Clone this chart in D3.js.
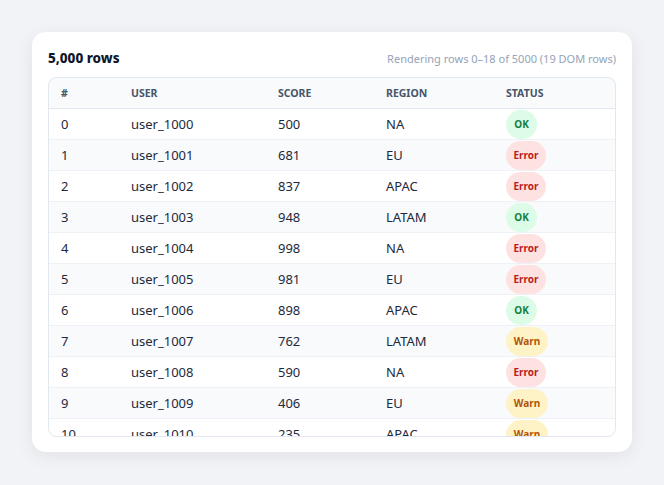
<!DOCTYPE html>
<html><head><meta charset="utf-8">
<script src="https://cdn.jsdelivr.net/npm/d3@7"></script>
<style>body{margin:0;background:#f1f3f7;}svg{display:block;font-family:"Noto Sans",sans-serif;}</style>
</head><body><svg id="c" width="664" height="485"></svg>
<script>
const columns = ["#", "USER", "SCORE", "REGION", "STATUS"];
const ids = [0,1,2,3,4,5,6,7,8,9,10];
const users = ["user_1000","user_1001","user_1002","user_1003","user_1004","user_1005","user_1006","user_1007","user_1008","user_1009","user_1010"];
const scores = [500,681,837,948,998,981,898,762,590,406,235];
const regions = ["NA","EU","APAC","LATAM","NA","EU","APAC","LATAM","NA","EU","APAC"];
const statuses = ["OK","Error","Error","OK","Error","Error","OK","Warn","Error","Warn","Warn"];
const title = "5,000 rows";
const subtitle = "Rendering rows 0–18 of 5000 (19 DOM rows)";

const svg = d3.select("#c");
const defs = svg.append("defs");
const f = defs.append("filter").attr("id","sh").attr("x","-10%").attr("y","-10%").attr("width","120%").attr("height","130%");
f.append("feDropShadow").attr("dx",0).attr("dy",4).attr("stdDeviation",8).attr("flood-color","#0f172a").attr("flood-opacity",0.07);
svg.append("rect").attr("x",32).attr("y",32).attr("width",600).attr("height",420).attr("rx",14).attr("fill","#fff").attr("filter","url(#sh)");
svg.append("text").attr("x",48).attr("y",63).attr("font-size",13.5).attr("font-weight",800).attr("fill","#0f172a").text(title);
svg.append("text").attr("x",616).attr("y",63).attr("text-anchor","end").attr("font-size",11).attr("fill","#94a3b8").text(subtitle);

const tx=48, ty=77, tw=568, th=360, hh=31, rh=31;
defs.append("clipPath").attr("id","tc").append("rect").attr("x",tx).attr("y",ty).attr("width",tw).attr("height",th).attr("rx",8);
const g = svg.append("g").attr("clip-path","url(#tc)");
g.append("rect").attr("x",tx).attr("y",ty).attr("width",tw).attr("height",hh).attr("fill","#f8fafc");
const colX = d3.scaleOrdinal().domain(columns).range([61,131,278,386,506]);
g.selectAll("text.h").data(columns).join("text").attr("class","h")
 .attr("x",d=>colX(d)).attr("y",ty+hh/2+4).attr("font-size",10.5).attr("font-weight",700).attr("fill","#475569").text(d=>d);
g.append("line").attr("x1",tx).attr("x2",tx+tw).attr("y1",ty+hh+0.5).attr("y2",ty+hh+0.5).attr("stroke","#e2e8f0");
const y = d3.scaleBand().domain(ids).range([ty+hh+1, ty+hh+1+rh*ids.length]);
const badge = {OK:{bg:"#dcfce7",fg:"#15803d",w:31},Error:{bg:"#fee2e2",fg:"#b91c1c",w:40},Warn:{bg:"#fef3c7",fg:"#b45309",w:42}};
const rows = g.selectAll("g.r").data(ids).join("g").attr("class","r").attr("transform",d=>`translate(0,${y(d)})`);
rows.append("rect").attr("x",tx).attr("width",tw).attr("height",rh).attr("fill",d=>d%2?"#f8fafc":"#fff");
rows.append("line").attr("x1",tx).attr("x2",tx+tw).attr("y1",rh-0.5).attr("y2",rh-0.5).attr("stroke","#eef2f6");
const cell=(i,fn)=>rows.append("text").attr("x",colX(columns[i])).attr("y",rh/2+4).attr("font-size",13).attr("fill","#1e293b").text(fn);
cell(0,d=>ids[d]); cell(1,d=>users[d]); cell(2,d=>scores[d]); cell(3,d=>regions[d]);
rows.append("rect").attr("x",colX("STATUS")).attr("y",1).attr("height",rh-2).attr("width",d=>badge[statuses[d]].w).attr("rx",14.5).attr("fill",d=>badge[statuses[d]].bg);
rows.append("text").attr("x",d=>colX("STATUS")+badge[statuses[d]].w/2).attr("y",rh/2+3.5).attr("text-anchor","middle").attr("font-size",10).attr("font-weight",700).attr("fill",d=>badge[statuses[d]].fg).text(d=>statuses[d]);
svg.append("rect").attr("x",tx+0.5).attr("y",ty+0.5).attr("width",tw-1).attr("height",th-1).attr("rx",8).attr("fill","none").attr("stroke","#e2e8f0");
</script></body></html>
